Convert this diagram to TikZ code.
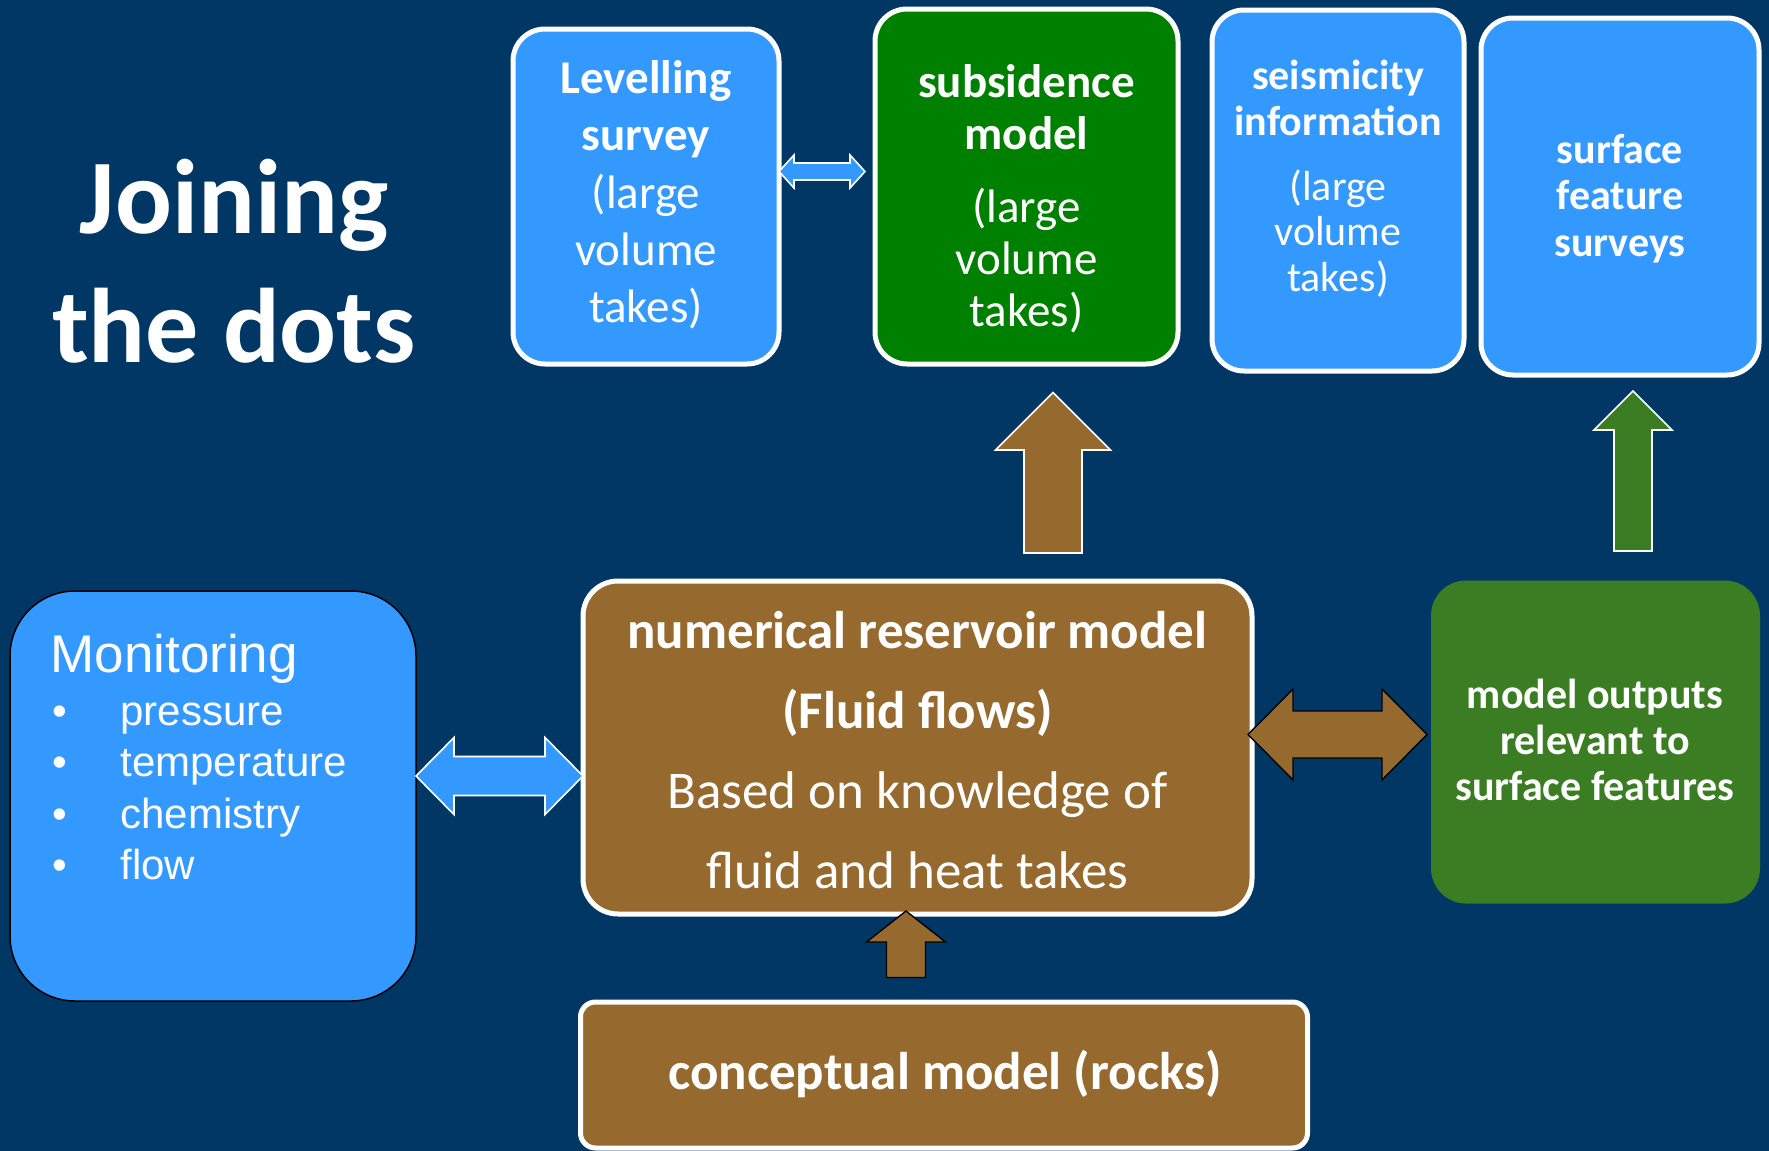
\documentclass[tikz,border=0pt]{standalone}
\usepackage{fontspec}
\setmainfont{Carlito}
\newfontfamily\arialf{Liberation Sans}
\usetikzlibrary{calc}
\definecolor{navy}{RGB}{0,55,100}
\definecolor{lblue}{RGB}{51,153,255}
\definecolor{dgreen}{RGB}{0,128,0}
\definecolor{brownb}{RGB}{150,106,46}
\definecolor{ogreen}{RGB}{58,125,34}
% vertical block arrow: #1 base, #2 tip, #3 shaft half, #4 head half, #5 head length, #6 style
\newcommand\vblockarrow[6]{%
  \draw[#6] ($(#1)+(-#3,0)$) -- ($(#2)+(-#3,#5)$) -- ($(#2)+(-#4,#5)$) -- (#2)
    -- ($(#2)+(#4,#5)$) -- ($(#2)+(#3,#5)$) -- ($(#1)+(#3,0)$) -- cycle;}
% horizontal double block arrow: #1 left tip, #2 right tip
\newcommand\hdblarrow[6]{%
  \draw[#6] (#1) -- ($(#1)+(#5,-#4)$) -- ($(#1)+(#5,-#3)$) -- ($(#2)+(-#5,-#3)$)
    -- ($(#2)+(-#5,-#4)$) -- (#2) -- ($(#2)+(-#5,#4)$) -- ($(#2)+(-#5,#3)$)
    -- ($(#1)+(#5,#3)$) -- ($(#1)+(#5,#4)$) -- cycle;}
\begin{document}
\begin{tikzpicture}[x=0.5pt,y=-0.5pt,
  box/.style={rectangle,inner sep=0pt,outer sep=0pt},
  wborder/.style={draw=white,line width=2.5pt},
  txt/.style={inner sep=0pt,outer sep=0pt,text=white,anchor=base},
  warrow/.style={draw=white,line width=0.8pt,line join=miter},
  karrow/.style={draw=black,line width=0.7pt,line join=miter}]
\fill[navy] (0,0) rectangle (1769,1151);
\useasboundingbox (0,0) rectangle (1769,1151);

% title
\node[txt] (title) at (234,233) {\fontsize{53}{64.5}\selectfont\bfseries
  \begin{tabular}[t]{@{}c@{}}Joining\\the dots\end{tabular}};

% top boxes
\node[box,wborder,fill=lblue,rounded corners=16pt,minimum width=133pt,minimum height=167.5pt] (lev) at (646,196.5) {};
\node[box,wborder,fill=dgreen,rounded corners=16pt,minimum width=151.5pt,minimum height=177.5pt] (sub) at (1026.5,186.5) {};
\node[box,wborder,fill=lblue,rounded corners=16pt,minimum width=126pt,minimum height=180.5pt] (seis) at (1338,190.5) {};
\node[box,wborder,fill=lblue,rounded corners=16pt,minimum width=139pt,minimum height=178.5pt] (surf) at (1620,196.5) {};

\node[txt] (levT) at (646,93) {\fontsize{23.5}{28.75}\selectfont
  \begin{tabular}[t]{@{}c@{}}\textbf{Levelling}\\\textbf{survey}\\(large\\volume\\takes)\end{tabular}};
\node[txt] (subT) at (1026.5,97.5) {\fontsize{23.5}{26}\selectfont
  \begin{tabular}[t]{@{}c@{}}\textbf{subsidence}\\\textbf{model}\\[10.5pt](large\\volume\\takes)\end{tabular}};
\node[txt] (seisT) at (1338,89.5) {\fontsize{21}{23}\selectfont
  \begin{tabular}[t]{@{}c@{}}\textbf{seismicity}\\\textbf{information}\\[9.25pt](large\\volume\\takes)\end{tabular}};
\node[txt] (surfT) at (1620,163.5) {\fontsize{21}{23.2}\selectfont\bfseries
  \begin{tabular}[t]{@{}c@{}}surface\\feature\\surveys\end{tabular}};

% middle row
\node[box,draw=black,line width=0.75pt,fill=lblue,rounded corners=32.5pt,minimum width=203pt,minimum height=205pt] (mon) at (213,796) {};
\node[box,wborder,fill=brownb,rounded corners=17.5pt,minimum width=334.5pt,minimum height=166.5pt] (num) at (917.5,747.5) {};
\node[box,fill=ogreen,rounded corners=17.5pt,minimum width=164.5pt,minimum height=161.5pt] (out) at (1595.5,742) {};
\node[box,wborder,fill=brownb,rounded corners=7.5pt,minimum width=363.5pt,minimum height=73pt] (con) at (944,1075) {};

\node[txt,anchor=base west] (monT) at (50.5,672.5) {\arialf\fontsize{21}{25.8}\selectfont
  \begin{tabular}[t]{@{}l@{}}{\fontsize{26.5}{30}\selectfont Monitoring}\\[0.5pt]
  \makebox[35pt][l]{\kern1pt•}pressure\\
  \makebox[35pt][l]{\kern1pt•}temperature\\
  \makebox[35pt][l]{\kern1pt•}chemistry\\
  \makebox[35pt][l]{\kern1pt•}flow\end{tabular}};
\node[txt] (numT) at (917.5,648) {\fontsize{26.5}{40}\selectfont
  \begin{tabular}[t]{@{}c@{}}\textbf{numerical reservoir model}\\\textbf{(Fluid flows)}\\Based on knowledge of\\fluid and heat takes\end{tabular}};
\node[txt] (outT) at (1595,708) {\fontsize{21}{23}\selectfont\bfseries
  \begin{tabular}[t]{@{}c@{}}model outputs\\relevant to\\surface features\end{tabular}};
\node[txt] (conT) at (945,1089) {\fontsize{26.5}{32}\selectfont\bfseries conceptual model (rocks)};

% connector end points
\coordinate (a1l) at ($(lev.east)+(0,-25)$);
\coordinate (a1r) at ($(sub.west)+(-10,-15)$);
\coordinate (a2l) at ($(mon.east)+(0,-20)$);
\coordinate (a2r) at ($(num.west)+(0,28.5)$);
\coordinate (a3l) at ($(num.east)+(-4,-13)$);
\coordinate (a3r) at ($(out.west)+(-4,-7.5)$);
\coordinate (a4b) at ($(num.north)+(135.5,-28)$);
\coordinate (a4t) at ($(sub.south)+(26.5,28.5)$);
\coordinate (a5b) at ($(out.north)+(37.5,-29.5)$);
\coordinate (a5t) at ($(surf.south)+(13,16)$);
\coordinate (a6b) at ($(con.north)+(-38,-24.5)$);
\coordinate (a6t) at ($(num.south)+(-11.5,-3)$);

% connectors
\hdblarrow{a1l}{a1r}{8.5}{16.5}{15}{warrow,fill=lblue}
\hdblarrow{a2l}{a2r}{19.5}{38.5}{38}{warrow,fill=lblue}
\hdblarrow{a3l}{a3r}{23.5}{45.5}{45}{karrow,fill=brownb}
\vblockarrow{a4b}{a4t}{29}{57.5}{57.5}{warrow,fill=brownb}
\vblockarrow{a5b}{a5t}{19}{39}{39}{warrow,fill=ogreen}
\vblockarrow{a6b}{a6t}{19.5}{39.5}{31}{karrow,fill=brownb}
\end{tikzpicture}
\end{document}
